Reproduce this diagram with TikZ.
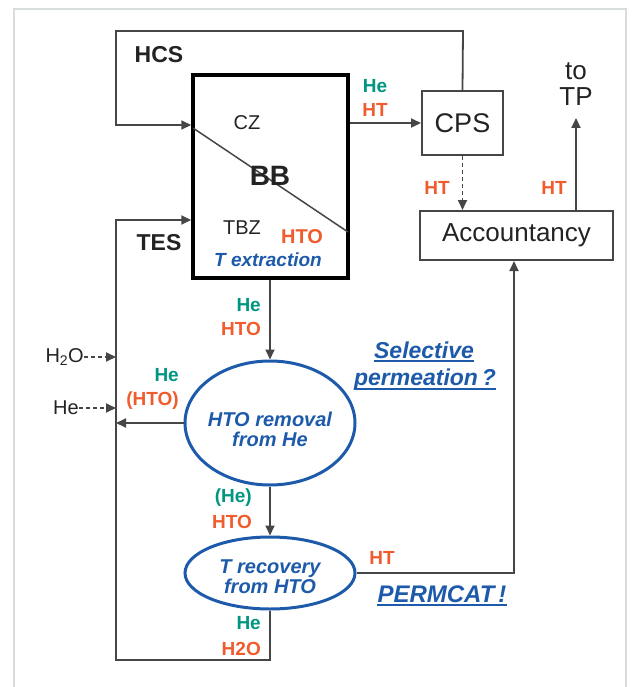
\documentclass[tikz,border=0pt]{standalone}
\usepackage{fontspec}
\setmainfont{Liberation Sans}
\usetikzlibrary{arrows.meta,shapes.geometric}
\definecolor{tealc}{RGB}{0,150,130}
\definecolor{orgc}{RGB}{240,92,45}
\definecolor{bluc}{RGB}{30,90,170}
\definecolor{linc}{RGB}{70,70,70}
\definecolor{frmc}{RGB}{214,221,219}
\definecolor{txtc}{RGB}{35,35,35}
\newcommand\fsz[1]{\fontsize{#1}{#1}\selectfont}
\tikzset{
  x=1pt,y=-1pt,
  conn/.style={draw=linc,line width=1.8pt},
  arr/.style={-{Triangle[length=10pt,width=9pt]}},
  dsh/.style={dash pattern=on 4pt off 3pt},
  boxc/.style={draw=linc,line width=2pt,inner sep=0pt,text=txtc},
  ellc/.style={ellipse,draw=bluc,line width=3pt,inner sep=0pt},
  lbl/.style={inner sep=0pt,text=txtc},
  lteal/.style={inner sep=0pt,text=tealc,font=\bfseries\fsz{19}},
  lorg/.style={inner sep=0pt,text=orgc,font=\bfseries\fsz{19}},
  bluit/.style={inner sep=0pt,text=bluc,font=\bfseries\itshape\fsz{20},align=center},
  ulc/.style={draw=bluc,line width=1.8pt},
}
\begin{document}
\begin{tikzpicture}
\useasboundingbox (0,0) rectangle (631,687);
% frame
\draw[frmc,line width=2.5pt] (14,700) -- (14,9) -- (626,9) -- (626,700);

% blanket box
\node[draw=black,line width=3.5pt,minimum width=155pt,minimum height=203pt,inner sep=0pt] (bb) at (270.5,176.5) {};
\coordinate (d1) at (193,128);
\coordinate (d2) at (348,232);
\draw[linc,line width=1.5pt] (d1) -- (d2);
\node[lbl,font=\fsz{20}] (cz) at (247,123) {CZ};
\node[lbl,font=\bfseries\fsz{28}] (bbt) at (270,176) {BB};
\node[lbl,font=\fsz{20}] (tbz) at (242,228) {TBZ};
\node[lorg,font=\bfseries\fsz{20}] (hto1) at (302,237) {HTO};
\node[bluit,font=\bfseries\itshape\fsz{19}] (text1) at (268,260) {T extraction};

% CPS and Accountancy
\node[boxc,minimum width=81pt,minimum height=64pt,font=\fsz{27}] (cps) at (462.5,123) {CPS};
\node[boxc,minimum width=193pt,minimum height=49pt,font=\fsz{26}] (acc) at (516.5,235.5) {Accountancy};

% HCS loop
\node[lbl,font=\bfseries\fsz{23}] (hcs) at (159,55) {HCS};
\coordinate (hA) at (463,31);
\coordinate (hB) at (116,31);
\coordinate (hC) at (116,125);
\draw[conn,arr] (cps.north) -- (hA) -- (hB) -- (hC) -- (hC -| bb.west);

% BB -> CPS
\draw[conn,arr] (bb.east |- cps.west) -- (cps.west);
\node[lteal] (he1) at (375,86) {He};
\node[lorg] (ht1) at (375,110) {HT};

% CPS -> Accountancy
\draw[conn,dsh,arr] (cps.south) -- (cps.south |- acc.north);
\node[lorg] (ht2) at (437,188) {HT};

% Accountancy -> TP
\coordinate (tp) at (576,118);
\draw[conn,arr] (tp |- acc.north) -- (tp);
\node[lorg] (ht3) at (554,188) {HT};
\node[lbl,font=\fsz{26}] (tot) at (576,71) {to};
\node[lbl,font=\fsz{26}] (tpn) at (576,97) {TP};

% TES
\node[lbl,font=\bfseries\fsz{23}] (tes) at (159,243) {TES};

% HTO removal
\node[ellc,minimum width=170pt,minimum height=124pt] (rem) at (270,423) {};
\node[bluit] (remt) at (270,429) {\fontsize{20}{26}\selectfont HTO removal\\from He};
\draw[conn,arr] (rem.north |- bb.south) -- (rem.north);
\node[lteal,anchor=east] (he2) at (261,305) {He};
\node[lorg,anchor=east] (hto2) at (261,329) {HTO};

% T recovery
\node[ellc,minimum width=170pt,minimum height=72pt] (rec) at (270,573) {};
\node[bluit] (rect) at (270,577) {\fontsize{20}{25}\selectfont T recovery\\from HTO};
\draw[conn,arr] (rem.south) -- (rec.north);
\node[lteal,font=\fsz{19}\bfseries,anchor=east] (he3) at (252,498) {(He)};
\node[lorg,anchor=east] (hto3) at (252,522) {HTO};

% TES loop
\coordinate (b1) at (271,660);
\coordinate (b2) at (116,660);
\coordinate (b3) at (116,220);
\draw[conn,arr] (rec.south) -- (rec.south |- b1) -- (b2) -- (b3) -- (b3 -| bb.west);
\node[lteal,anchor=east] (he4) at (261,623) {He};
\node[lorg,anchor=east] (h2o4) at (261,649) {H2O};

% return from HTO removal
\draw[conn,arr] (rem.west) -- (rem.west -| b2);
\node[lteal,anchor=east] (he5) at (179,375) {He};
\node[lorg,anchor=east] (hto5) at (179,401) {(HTO)};

% feeds
\node[lbl,font=\fsz{20},anchor=east] (h2o) at (84,357) {H\textsubscript{2}O};
\draw[conn,dsh,arr] (h2o.east) -- (h2o.east -| b2);
\node[lbl,font=\fsz{20},anchor=east] (hef) at (79,408) {He};
\draw[conn,dsh,arr] (hef.east) -- (hef.east -| b2);

% T recovery -> Accountancy
\coordinate (hc) at (514,573);
\draw[conn,arr] (rec.east) -- (hc) -- (hc |- acc.south);
\node[lorg] (ht4) at (382,558) {HT};

% notes
\node[bluit,font=\bfseries\itshape\fsz{23}] (sel1) at (424,350) {Selective};
\node[bluit,font=\bfseries\itshape\fsz{23}] (sel2) at (425,380) {permeation\,?};
\draw[ulc] ([yshift=-3pt]sel1.base west) -- ([yshift=-3pt]sel1.base east);
\draw[ulc] ([yshift=-3pt]sel2.base west) -- ([yshift=-3pt]sel2.base east);
\node[bluit,font=\bfseries\itshape\fsz{24}] (perm) at (442,594) {PERMCAT\,!};
\draw[ulc] ([yshift=-3pt]perm.base west) -- ([yshift=-3pt]perm.base east);
\end{tikzpicture}
\end{document}
